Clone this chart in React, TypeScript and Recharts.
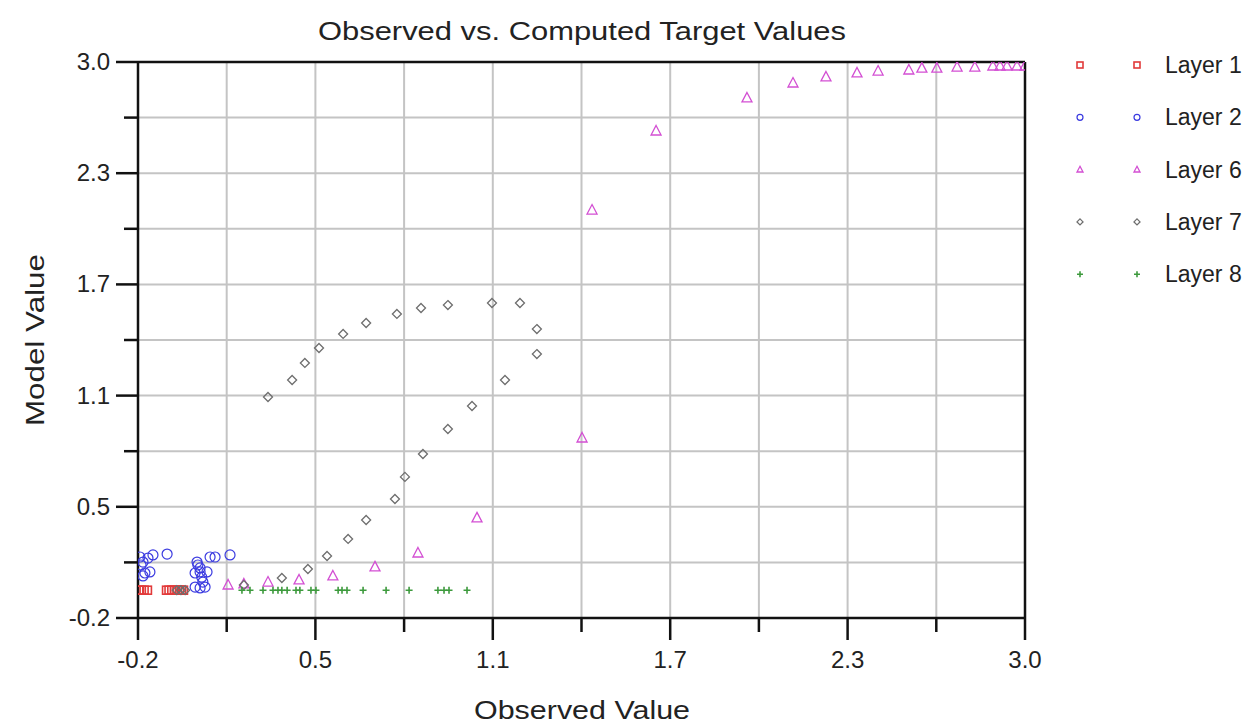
import { ScatterChart, Scatter, XAxis, YAxis, CartesianGrid, ReferenceLine, Legend } from "recharts";

// grid positions (10 equal steps), only every other one carries a label
const xTicks = [-0.2, 0.12, 0.44, 0.76, 1.08, 1.4, 1.72, 2.04, 2.36, 2.68, 3.0];
const yTicks = [-0.2, 0.12, 0.44, 0.76, 1.08, 1.4, 1.72, 2.04, 2.36, 2.68, 3.0];
const xTickLabels = ["-0.2", "0.5", "1.1", "1.7", "2.3", "3.0"];
const yTickLabels = ["-0.2", "0.5", "1.1", "1.7", "2.3", "3.0"];

const layer1 = [
    { x: -0.197, y: -0.04 }, { x: -0.188, y: -0.04 }, { x: -0.178, y: -0.04 }, { x: -0.166, y: -0.04 },
    { x: -0.097, y: -0.04 }, { x: -0.088, y: -0.04 }, { x: -0.078, y: -0.04 }, { x: -0.068, y: -0.04 },
    { x: -0.058, y: -0.04 }, { x: -0.05, y: -0.04 }, { x: -0.043, y: -0.04 }, { x: -0.036, y: -0.04 },
];

const layer2 = [
    { x: -0.193, y: 0.151 }, { x: -0.182, y: 0.122 }, { x: -0.189, y: 0.105 }, { x: -0.164, y: 0.145 },
    { x: -0.146, y: 0.163 }, { x: -0.095, y: 0.168 }, { x: -0.175, y: 0.059 }, { x: -0.157, y: 0.065 },
    { x: -0.182, y: 0.042 }, { x: 0.013, y: 0.122 }, { x: 0.016, y: 0.105 }, { x: 0.006, y: 0.059 },
    { x: 0.024, y: 0.065 }, { x: 0.049, y: 0.065 }, { x: 0.034, y: 0.007 }, { x: 0.006, y: -0.022 },
    { x: 0.024, y: -0.027 }, { x: 0.042, y: -0.022 }, { x: 0.06, y: 0.151 }, { x: 0.078, y: 0.151 },
    { x: 0.132, y: 0.163 }, { x: 0.024, y: 0.088 }, { x: 0.03, y: 0.035 },
];

const layer6 = [
    { x: 0.125, y: -0.01 }, { x: 0.182, y: -0.004 }, { x: 0.269, y: 0.007 }, { x: 0.381, y: 0.019 },
    { x: 0.503, y: 0.042 }, { x: 0.655, y: 0.094 }, { x: 0.81, y: 0.174 }, { x: 1.023, y: 0.376 },
    { x: 1.402, y: 0.836 }, { x: 1.438, y: 2.148 }, { x: 1.669, y: 2.603 }, { x: 1.997, y: 2.793 },
    { x: 2.163, y: 2.879 }, { x: 2.282, y: 2.914 }, { x: 2.394, y: 2.937 }, { x: 2.47, y: 2.948 },
    { x: 2.581, y: 2.954 }, { x: 2.628, y: 2.965 }, { x: 2.682, y: 2.965 }, { x: 2.755, y: 2.971 },
    { x: 2.819, y: 2.971 }, { x: 2.884, y: 2.977 }, { x: 2.91, y: 2.977 }, { x: 2.935, y: 2.977 },
    { x: 2.971, y: 2.977 }, { x: 3.0, y: 2.977 },
];

const layer7 = [
    { x: 0.269, y: 1.072 }, { x: 0.356, y: 1.17 }, { x: 0.402, y: 1.268 }, { x: 0.453, y: 1.354 },
    { x: 0.54, y: 1.435 }, { x: 0.623, y: 1.498 }, { x: 0.734, y: 1.55 }, { x: 0.821, y: 1.584 },
    { x: 0.918, y: 1.601 }, { x: 1.077, y: 1.613 }, { x: 1.178, y: 1.613 }, { x: 1.239, y: 1.463 },
    { x: 1.239, y: 1.319 }, { x: 1.124, y: 1.17 }, { x: 1.005, y: 1.02 }, { x: 0.918, y: 0.888 },
    { x: 0.828, y: 0.744 }, { x: 0.763, y: 0.612 }, { x: 0.727, y: 0.485 }, { x: 0.623, y: 0.364 },
    { x: 0.558, y: 0.255 }, { x: 0.482, y: 0.157 }, { x: 0.413, y: 0.082 }, { x: 0.319, y: 0.03 },
    { x: 0.182, y: -0.01 }, { x: -0.06, y: -0.04 }, { x: -0.045, y: -0.04 }, { x: -0.03, y: -0.04 },
];

const layer8 = [
    0.175, 0.204, 0.251, 0.287, 0.305, 0.319, 0.338, 0.37, 0.384, 0.424, 0.442,
    0.522, 0.536, 0.554, 0.612, 0.695, 0.778, 0.882, 0.904, 0.922, 0.987,
].map(x => ({ x, y: -0.04 }));

const SERIES = [
    { name: "Layer 1", data: layer1, kind: "square", color: "#e23a3a" },
    { name: "Layer 2", data: layer2, kind: "circle", color: "#3b3be0" },
    { name: "Layer 6", data: layer6, kind: "triangle", color: "#d34fd3" },
    { name: "Layer 7", data: layer7, kind: "diamond", color: "#6e6e6e" },
    { name: "Layer 8", data: layer8, kind: "plus", color: "#3d9a3d" },
];

const FONT = "'Liberation Sans', Arial, sans-serif";

function Marker({ cx, cy, kind, color, s }: { cx: number; cy: number; kind: string; color: string; s: number }) {
    if (cx == null || cy == null) return null;
    const h = s / 2;
    if (kind === "square")
        return <rect x={cx - h} y={cy - h} width={s} height={s} fill="none" stroke={color} strokeWidth={1.6} />;
    if (kind === "circle")
        return <circle cx={cx} cy={cy} r={h} fill="none" stroke={color} strokeWidth={1.2} />;
    if (kind === "triangle")
        return <path d={`M${cx},${cy - h * 1.1} L${cx + h},${cy + h * 0.8} L${cx - h},${cy + h * 0.8} Z`} fill="none" stroke={color} strokeWidth={1.3} />;
    if (kind === "diamond")
        return <path d={`M${cx},${cy - h} L${cx + h},${cy} L${cx},${cy + h} L${cx - h},${cy} Z`} fill="none" stroke={color} strokeWidth={1.3} />;
    return <path d={`M${cx - h},${cy} H${cx + h} M${cx},${cy - h} V${cy + h}`} stroke={color} strokeWidth={1.6} />;
}

const markerSize: Record<string, number> = { square: 8, circle: 10, triangle: 10, diamond: 9, plus: 7 };

function XTick({ x, y, index }: any) {
    const major = index % 2 === 0;
    return (
        <g>
            <line x1={x} y1={y} x2={x} y2={y + (major ? 22 : 14)} stroke="#111" strokeWidth={2.5} />
            {major && (
                <text x={x} y={y + 50} textAnchor="middle" fontSize={24} fill="#222" fontFamily={FONT}>
                    {xTickLabels[index / 2]}
                </text>
            )}
        </g>
    );
}

function YTick({ x, y, index }: any) {
    const major = index % 2 === 0;
    return (
        <g>
            <line x1={x} y1={y} x2={x - (major ? 22 : 14)} y2={y} stroke="#111" strokeWidth={2.5} />
            {major && (
                <text x={x - 28} y={y + 8} textAnchor="end" fontSize={24} fill="#222" fontFamily={FONT}>
                    {yTickLabels[index / 2]}
                </text>
            )}
        </g>
    );
}

function LegendBox() {
    return (
        <svg width={200} height={270}>
            {SERIES.map((s, i) => {
                const cy = 26 + i * 52.3;
                return (
                    <g key={s.name}>
                        <Marker cx={20} cy={cy} kind={s.kind} color={s.color} s={6} />
                        <Marker cx={77} cy={cy} kind={s.kind} color={s.color} s={6} />
                        <text x={105} y={cy + 8} fontSize={23} fill="#222" fontFamily={FONT}>{s.name}</text>
                    </g>
                );
            })}
        </svg>
    );
}

export default function App() {
    return (
        <div style={{ position: "absolute", left: 0, top: 0, width: 1258, height: 727, background: "#fff" }}>
            <ScatterChart width={1258} height={727} margin={{ top: 62, right: 233, bottom: 108, left: 137 }}>
                <CartesianGrid stroke="#c4c4c4" strokeWidth={2} />
                <XAxis
                    type="number"
                    dataKey="x"
                    domain={[-0.2, 3.0]}
                    ticks={xTicks}
                    interval={0}
                    height={1}
                    tickSize={0}
                    tickMargin={0}
                    tick={<XTick />}
                    tickLine={false}
                    axisLine={{ stroke: "#111", strokeWidth: 2.5 }}
                    allowDataOverflow
                />
                <YAxis
                    type="number"
                    dataKey="y"
                    domain={[-0.2, 3.0]}
                    ticks={yTicks}
                    interval={0}
                    width={1}
                    tickSize={0}
                    tickMargin={0}
                    tick={<YTick />}
                    tickLine={false}
                    axisLine={{ stroke: "#111", strokeWidth: 2.5 }}
                    allowDataOverflow
                />
                <ReferenceLine y={3.0} stroke="#111" strokeWidth={2.5} />
                <ReferenceLine x={3.0} stroke="#111" strokeWidth={2.5} />
                {SERIES.map(s => (
                    <Scatter
                        key={s.name}
                        name={s.name}
                        data={s.data}
                        fill={s.color}
                        isAnimationActive={false}
                        shape={(p: any) => <Marker cx={p.cx} cy={p.cy} kind={s.kind} color={s.color} s={markerSize[s.kind]} />}
                    />
                ))}
                <Legend
                    layout="vertical"
                    align="center"
                    verticalAlign="middle"
                    content={() => <LegendBox />}
                    wrapperStyle={{ left: 1060, top: 39, width: 200, height: 270 }}
                />
            </ScatterChart>
            <svg width={1258} height={727} style={{ position: "absolute", left: 0, top: 0, pointerEvents: "none" }}>
                <text x={582} y={40} textAnchor="middle" fontSize={25} fill="#222" fontFamily={FONT} textLength={528} lengthAdjust="spacingAndGlyphs">
                    Observed vs. Computed Target Values
                </text>
                <text x={582} y={719} textAnchor="middle" fontSize={25} fill="#222" fontFamily={FONT} textLength={216} lengthAdjust="spacingAndGlyphs">
                    Observed Value
                </text>
                <text transform="translate(44,340) rotate(-90)" textAnchor="middle" fontSize={25} fill="#222" fontFamily={FONT} textLength={172} lengthAdjust="spacingAndGlyphs">
                    Model Value
                </text>
            </svg>
        </div>
    );
}
